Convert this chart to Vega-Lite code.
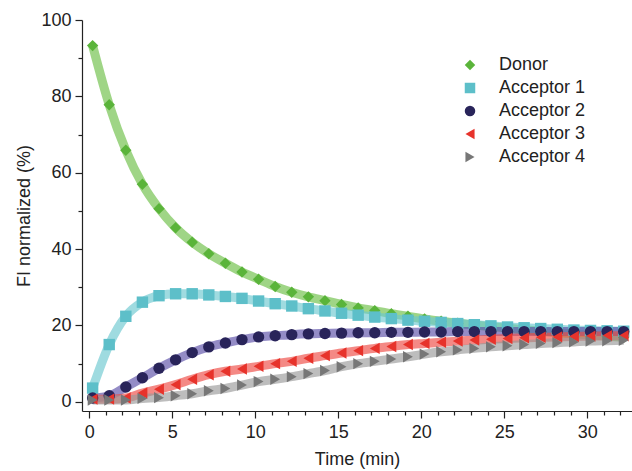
{
  "$schema": "https://vega.github.io/schema/vega-lite/v6.json",
  "autosize": "none",
  "width": 550,
  "height": 391,
  "padding": {"left": 82, "top": 20, "right": 0, "bottom": 60},
  "background": "white",
  "config": {
    "view": {"stroke": null},
    "font": "Liberation Sans",
    "axis": {"domainColor": "#222", "tickColor": "#222", "labelColor": "#222", "titleColor": "#222", "labelFont": "Liberation Sans", "titleFont": "Liberation Sans", "labelFontSize": 18, "titleFontSize": 18, "titleFontWeight": "normal", "grid": false, "domainWidth": 1.2, "tickWidth": 1.2},
    "legend": {"labelFont": "Liberation Sans", "symbolStrokeWidth": 0, "symbolOpacity": 1}
  },
  "datasets": {
    "fi": [
      {"t":0.2,"v":93.3,"s":"Donor"},{"t":1.2,"v":77.8,"s":"Donor"},{"t":2.2,"v":65.9,"s":"Donor"},{"t":3.2,"v":57.0,"s":"Donor"},{"t":4.2,"v":50.6,"s":"Donor"},{"t":5.2,"v":45.6,"s":"Donor"},{"t":6.2,"v":41.8,"s":"Donor"},{"t":7.2,"v":38.8,"s":"Donor"},{"t":8.2,"v":36.3,"s":"Donor"},{"t":9.2,"v":34.0,"s":"Donor"},{"t":10.2,"v":32.1,"s":"Donor"},{"t":11.2,"v":30.2,"s":"Donor"},{"t":12.2,"v":28.7,"s":"Donor"},{"t":13.2,"v":27.5,"s":"Donor"},{"t":14.2,"v":26.5,"s":"Donor"},{"t":15.2,"v":25.5,"s":"Donor"},{"t":16.2,"v":24.6,"s":"Donor"},{"t":17.2,"v":23.9,"s":"Donor"},{"t":18.2,"v":23.1,"s":"Donor"},{"t":19.2,"v":22.4,"s":"Donor"},{"t":20.2,"v":21.7,"s":"Donor"},{"t":21.2,"v":21.1,"s":"Donor"},{"t":22.2,"v":20.6,"s":"Donor"},{"t":23.2,"v":20.1,"s":"Donor"},{"t":24.2,"v":19.7,"s":"Donor"},{"t":25.2,"v":19.3,"s":"Donor"},{"t":26.2,"v":18.9,"s":"Donor"},{"t":27.2,"v":18.5,"s":"Donor"},{"t":28.2,"v":18.1,"s":"Donor"},{"t":29.2,"v":17.8,"s":"Donor"},{"t":30.2,"v":17.5,"s":"Donor"},{"t":31.2,"v":17.2,"s":"Donor"},{"t":32.2,"v":16.9,"s":"Donor"},

      {"t":0.2,"v":3.6,"s":"Acceptor 1"},{"t":1.2,"v":15.0,"s":"Acceptor 1"},{"t":2.2,"v":22.4,"s":"Acceptor 1"},{"t":3.2,"v":26.1,"s":"Acceptor 1"},{"t":4.2,"v":27.8,"s":"Acceptor 1"},{"t":5.2,"v":28.3,"s":"Acceptor 1"},{"t":6.2,"v":28.3,"s":"Acceptor 1"},{"t":7.2,"v":28.0,"s":"Acceptor 1"},{"t":8.2,"v":27.6,"s":"Acceptor 1"},{"t":9.2,"v":27.1,"s":"Acceptor 1"},{"t":10.2,"v":26.4,"s":"Acceptor 1"},{"t":11.2,"v":25.7,"s":"Acceptor 1"},{"t":12.2,"v":25.1,"s":"Acceptor 1"},{"t":13.2,"v":24.4,"s":"Acceptor 1"},{"t":14.2,"v":23.8,"s":"Acceptor 1"},{"t":15.2,"v":23.2,"s":"Acceptor 1"},{"t":16.2,"v":22.7,"s":"Acceptor 1"},{"t":17.2,"v":22.2,"s":"Acceptor 1"},{"t":18.2,"v":21.8,"s":"Acceptor 1"},{"t":19.2,"v":21.4,"s":"Acceptor 1"},{"t":20.2,"v":21.1,"s":"Acceptor 1"},{"t":21.2,"v":20.8,"s":"Acceptor 1"},{"t":22.2,"v":20.5,"s":"Acceptor 1"},{"t":23.2,"v":20.2,"s":"Acceptor 1"},{"t":24.2,"v":19.9,"s":"Acceptor 1"},{"t":25.2,"v":19.6,"s":"Acceptor 1"},{"t":26.2,"v":19.4,"s":"Acceptor 1"},{"t":27.2,"v":19.2,"s":"Acceptor 1"},{"t":28.2,"v":19.0,"s":"Acceptor 1"},{"t":29.2,"v":18.8,"s":"Acceptor 1"},{"t":30.2,"v":18.7,"s":"Acceptor 1"},{"t":31.2,"v":18.6,"s":"Acceptor 1"},{"t":32.2,"v":18.5,"s":"Acceptor 1"},

      {"t":0.2,"v":1.0,"s":"Acceptor 2"},{"t":1.2,"v":1.6,"s":"Acceptor 2"},{"t":2.2,"v":3.9,"s":"Acceptor 2"},{"t":3.2,"v":6.3,"s":"Acceptor 2"},{"t":4.2,"v":8.8,"s":"Acceptor 2"},{"t":5.2,"v":11.0,"s":"Acceptor 2"},{"t":6.2,"v":12.9,"s":"Acceptor 2"},{"t":7.2,"v":14.4,"s":"Acceptor 2"},{"t":8.2,"v":15.4,"s":"Acceptor 2"},{"t":9.2,"v":16.3,"s":"Acceptor 2"},{"t":10.2,"v":17.0,"s":"Acceptor 2"},{"t":11.2,"v":17.3,"s":"Acceptor 2"},{"t":12.2,"v":17.6,"s":"Acceptor 2"},{"t":13.2,"v":17.8,"s":"Acceptor 2"},{"t":14.2,"v":17.9,"s":"Acceptor 2"},{"t":15.2,"v":18.0,"s":"Acceptor 2"},{"t":16.2,"v":18.1,"s":"Acceptor 2"},{"t":17.2,"v":18.1,"s":"Acceptor 2"},{"t":18.2,"v":18.2,"s":"Acceptor 2"},{"t":19.2,"v":18.2,"s":"Acceptor 2"},{"t":20.2,"v":18.3,"s":"Acceptor 2"},{"t":21.2,"v":18.3,"s":"Acceptor 2"},{"t":22.2,"v":18.4,"s":"Acceptor 2"},{"t":23.2,"v":18.4,"s":"Acceptor 2"},{"t":24.2,"v":18.4,"s":"Acceptor 2"},{"t":25.2,"v":18.4,"s":"Acceptor 2"},{"t":26.2,"v":18.4,"s":"Acceptor 2"},{"t":27.2,"v":18.4,"s":"Acceptor 2"},{"t":28.2,"v":18.4,"s":"Acceptor 2"},{"t":29.2,"v":18.4,"s":"Acceptor 2"},{"t":30.2,"v":18.4,"s":"Acceptor 2"},{"t":31.2,"v":18.4,"s":"Acceptor 2"},{"t":32.2,"v":18.4,"s":"Acceptor 2"},

      {"t":0.2,"v":0.7,"s":"Acceptor 3"},{"t":1.2,"v":0.7,"s":"Acceptor 3"},{"t":2.2,"v":1.0,"s":"Acceptor 3"},{"t":3.2,"v":2.3,"s":"Acceptor 3"},{"t":4.2,"v":3.3,"s":"Acceptor 3"},{"t":5.2,"v":4.5,"s":"Acceptor 3"},{"t":6.2,"v":5.9,"s":"Acceptor 3"},{"t":7.2,"v":7.1,"s":"Acceptor 3"},{"t":8.2,"v":8.0,"s":"Acceptor 3"},{"t":9.2,"v":8.6,"s":"Acceptor 3"},{"t":10.2,"v":9.3,"s":"Acceptor 3"},{"t":11.2,"v":10.0,"s":"Acceptor 3"},{"t":12.2,"v":10.6,"s":"Acceptor 3"},{"t":13.2,"v":11.4,"s":"Acceptor 3"},{"t":14.2,"v":12.1,"s":"Acceptor 3"},{"t":15.2,"v":12.8,"s":"Acceptor 3"},{"t":16.2,"v":13.4,"s":"Acceptor 3"},{"t":17.2,"v":14.0,"s":"Acceptor 3"},{"t":18.2,"v":14.5,"s":"Acceptor 3"},{"t":19.2,"v":15.0,"s":"Acceptor 3"},{"t":20.2,"v":15.3,"s":"Acceptor 3"},{"t":21.2,"v":15.6,"s":"Acceptor 3"},{"t":22.2,"v":15.9,"s":"Acceptor 3"},{"t":23.2,"v":16.2,"s":"Acceptor 3"},{"t":24.2,"v":16.4,"s":"Acceptor 3"},{"t":25.2,"v":16.6,"s":"Acceptor 3"},{"t":26.2,"v":16.8,"s":"Acceptor 3"},{"t":27.2,"v":16.9,"s":"Acceptor 3"},{"t":28.2,"v":17.0,"s":"Acceptor 3"},{"t":29.2,"v":17.1,"s":"Acceptor 3"},{"t":30.2,"v":17.2,"s":"Acceptor 3"},{"t":31.2,"v":17.3,"s":"Acceptor 3"},{"t":32.2,"v":17.3,"s":"Acceptor 3"},

      {"t":0.2,"v":0.5,"s":"Acceptor 4"},{"t":1.2,"v":0.5,"s":"Acceptor 4"},{"t":2.2,"v":0.5,"s":"Acceptor 4"},{"t":3.2,"v":0.9,"s":"Acceptor 4"},{"t":4.2,"v":1.1,"s":"Acceptor 4"},{"t":5.2,"v":1.6,"s":"Acceptor 4"},{"t":6.2,"v":2.1,"s":"Acceptor 4"},{"t":7.2,"v":2.9,"s":"Acceptor 4"},{"t":8.2,"v":3.5,"s":"Acceptor 4"},{"t":9.2,"v":4.4,"s":"Acceptor 4"},{"t":10.2,"v":5.3,"s":"Acceptor 4"},{"t":11.2,"v":5.9,"s":"Acceptor 4"},{"t":12.2,"v":6.6,"s":"Acceptor 4"},{"t":13.2,"v":7.4,"s":"Acceptor 4"},{"t":14.2,"v":8.2,"s":"Acceptor 4"},{"t":15.2,"v":9.2,"s":"Acceptor 4"},{"t":16.2,"v":10.0,"s":"Acceptor 4"},{"t":17.2,"v":10.6,"s":"Acceptor 4"},{"t":18.2,"v":11.2,"s":"Acceptor 4"},{"t":19.2,"v":11.8,"s":"Acceptor 4"},{"t":20.2,"v":12.5,"s":"Acceptor 4"},{"t":21.2,"v":13.1,"s":"Acceptor 4"},{"t":22.2,"v":13.6,"s":"Acceptor 4"},{"t":23.2,"v":14.0,"s":"Acceptor 4"},{"t":24.2,"v":14.4,"s":"Acceptor 4"},{"t":25.2,"v":14.7,"s":"Acceptor 4"},{"t":26.2,"v":15.0,"s":"Acceptor 4"},{"t":27.2,"v":15.3,"s":"Acceptor 4"},{"t":28.2,"v":15.5,"s":"Acceptor 4"},{"t":29.2,"v":15.7,"s":"Acceptor 4"},{"t":30.2,"v":15.9,"s":"Acceptor 4"},{"t":31.2,"v":16.0,"s":"Acceptor 4"},{"t":32.2,"v":16.1,"s":"Acceptor 4"}
    ]
  },
  "data": {"name": "fi"},
  "encoding": {
    "x": {"field": "t", "type": "quantitative", "title": "Time (min)",
      "scale": {"domain": [-0.44, 32.7], "nice": false, "zero": false},
      "axis": {"values": [0,1,2,3,4,5,6,7,8,9,10,11,12,13,14,15,16,17,18,19,20,21,22,23,24,25,26,27,28,29,30,31,32],
        "labelExpr": "datum.value % 5 === 0 ? datum.label : ''",
        "tickSize": {"condition": {"test": "datum.value % 5 === 0", "value": 7}, "value": 4},
        "labelPadding": 5, "titlePadding": 9, "labelFlush": false}},
    "y": {"field": "v", "type": "quantitative", "title": "FI normalized (%)",
      "scale": {"domain": [-2.4, 100], "nice": false, "zero": false},
      "axis": {"values": [0,10,20,30,40,50,60,70,80,90,100],
        "labelExpr": "datum.value % 20 === 0 ? datum.label : ''",
        "tickSize": {"condition": {"test": "datum.value % 20 === 0", "value": 7}, "value": 4},
        "labelPadding": 4, "titlePadding": 7, "labelFlush": false}}
  },
  "layer": [
    {
      "mark": {"type": "line", "strokeWidth": 9, "opacity": 0.65, "interpolate": "monotone"},
      "encoding": {
        "detail": {"field": "s"},
        "stroke": {"field": "s", "type": "nominal",
          "scale": {"domain": ["Donor","Acceptor 1","Acceptor 2","Acceptor 3","Acceptor 4"],
            "range": ["#6cbf45","#6cc7cf","#5a4fa8","#ee4a44","#999999"]}}
      }
    },
    {
      "mark": {"type": "point", "filled": true, "opacity": 1, "size": 130},
      "encoding": {
        "fill": {"field": "s", "type": "nominal",
          "scale": {"domain": ["Donor","Acceptor 1","Acceptor 2","Acceptor 3","Acceptor 4"],
            "range": ["#5ab43a","#5dbfc9","#29245a","#e7332b","#777777"]},
          "legend": {"title": null, "orient": "none", "legendX": 379, "legendY": 36,
            "labelFontSize": 18, "labelColor": "#222", "symbolSize": 110, "rowPadding": 5, "labelOffset": 20, "symbolStrokeWidth": 0, "symbolOpacity": 1}},
        "shape": {"field": "s", "type": "nominal",
          "scale": {"domain": ["Donor","Acceptor 1","Acceptor 2","Acceptor 3","Acceptor 4"],
            "range": ["diamond","square","circle","triangle-left","triangle-right"]}}
      }
    }
  ]
}
